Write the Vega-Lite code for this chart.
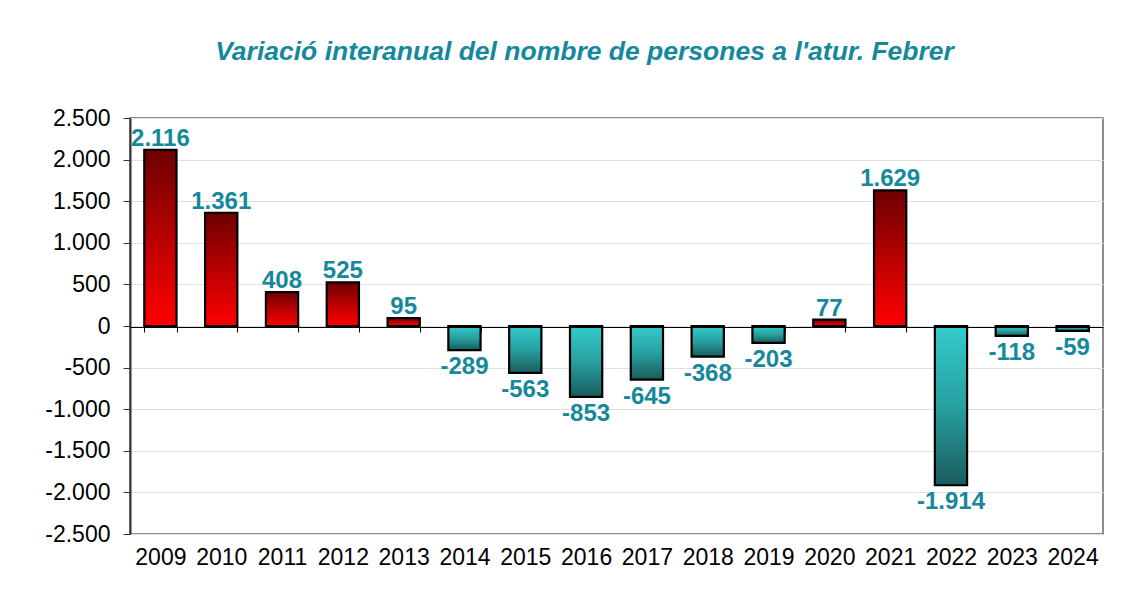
{
  "$schema": "https://vega.github.io/schema/vega-lite/v6.json",
  "autosize": "none",
  "width": 973,
  "height": 416,
  "padding": {"left": 130, "top": 118, "right": 32, "bottom": 65},
  "background": "white",
  "config": {
    "locale": {"number": {"decimal": ",", "thousands": ".", "grouping": [3], "currency": ["", " €"], "minus": "-"}},
    "view": {"stroke": "#8c8c8c", "strokeWidth": 2},
    "font": "Liberation Sans"
  },
  "title": {
    "text": "Variació interanual del nombre de persones a l'atur. Febrer",
    "font": "Liberation Sans",
    "fontSize": 26.5,
    "fontWeight": "bold",
    "fontStyle": "italic",
    "color": "#15899b",
    "anchor": "middle",
    "dx": -32,
    "baseline": "alphabetic",
    "offset": 21
  },
  "data": {
    "values": [
      {"year": "2009", "value": 2116},
      {"year": "2010", "value": 1361},
      {"year": "2011", "value": 408},
      {"year": "2012", "value": 525},
      {"year": "2013", "value": 95},
      {"year": "2014", "value": -289},
      {"year": "2015", "value": -563},
      {"year": "2016", "value": -853},
      {"year": "2017", "value": -645},
      {"year": "2018", "value": -368},
      {"year": "2019", "value": -203},
      {"year": "2020", "value": 77},
      {"year": "2021", "value": 1629},
      {"year": "2022", "value": -1914},
      {"year": "2023", "value": -118},
      {"year": "2024", "value": -59}
    ]
  },
  "encoding": {
    "x": {
      "field": "year",
      "type": "nominal",
      "sort": null,
      "scale": {
        "domain": ["2009", "2010", "2011", "2012", "2013", "2014", "2015", "2016", "2017", "2018", "2019", "2020", "2021", "2022", "2023", "2024"],
        "paddingInner": 0.47, "paddingOuter": 0.235
      },
      "axis": {
        "title": null,
        "labelAngle": 0,
        "labelFont": "Liberation Sans",
        "labelFontSize": 23,
        "labelColor": "#000000",
        "offset": -207,
        "domainColor": "#000000",
        "domainWidth": 1,
        "tickColor": "#000000",
        "tickSize": 5,
        "tickBand": "extent",
        "labelPadding": 214,
        "grid": false,
        "zindex": 1
      }
    },
    "y": {
      "field": "value",
      "type": "quantitative",
      "scale": {"domain": [-2500, 2500], "nice": false, "zero": false},
      "axis": {
        "title": null,
        "values": [-2500, -2000, -1500, -1000, -500, 0, 500, 1000, 1500, 2000, 2500],
        "format": ",d",
        "labelFont": "Liberation Sans",
        "labelFontSize": 23,
        "labelColor": "#000000",
        "labelPadding": 13,
        "domainColor": "#333333",
        "domainWidth": 2,
        "tickColor": "#333333",
        "tickSize": 7,
        "gridColor": "#e0e0e0",
        "gridWidth": 1.2
      }
    }
  },
  "layer": [
    {
      "transform": [{"filter": "datum.value >= 0"}],
      "mark": {
        "type": "bar",
        "stroke": "#000000",
        "strokeWidth": 2.2,
        "color": {
          "gradient": "linear",
          "x1": 0, "y1": 0, "x2": 0, "y2": 1,
          "stops": [
            {"offset": 0, "color": "#6e0000"},
            {"offset": 0.55, "color": "#c00000"},
            {"offset": 1, "color": "#ff0000"}
          ]
        }
      },
      "encoding": {"y2": {"datum": 0}}
    },
    {
      "transform": [{"filter": "datum.value < 0"}],
      "mark": {
        "type": "bar",
        "stroke": "#000000",
        "strokeWidth": 2.2,
        "color": {
          "gradient": "linear",
          "x1": 0, "y1": 0, "x2": 0, "y2": 1,
          "stops": [
            {"offset": 0, "color": "#33cccc"},
            {"offset": 0.5, "color": "#28a0a0"},
            {"offset": 1, "color": "#1a5c5c"}
          ]
        }
      },
      "encoding": {"y2": {"datum": 0}}
    },
    {
      "transform": [{"filter": "datum.value >= 0"}],
      "mark": {"type": "text", "baseline": "alphabetic", "dy": -4, "fontSize": 24, "fontWeight": "bold", "color": "#15899b", "font": "Liberation Sans"},
      "encoding": {"text": {"field": "value", "type": "quantitative", "format": ",d"}}
    },
    {
      "transform": [{"filter": "datum.value < 0"}],
      "mark": {"type": "text", "baseline": "top", "dy": 5, "fontSize": 24, "fontWeight": "bold", "color": "#15899b", "font": "Liberation Sans"},
      "encoding": {"text": {"field": "value", "type": "quantitative", "format": ",d"}}
    }
  ]
}
